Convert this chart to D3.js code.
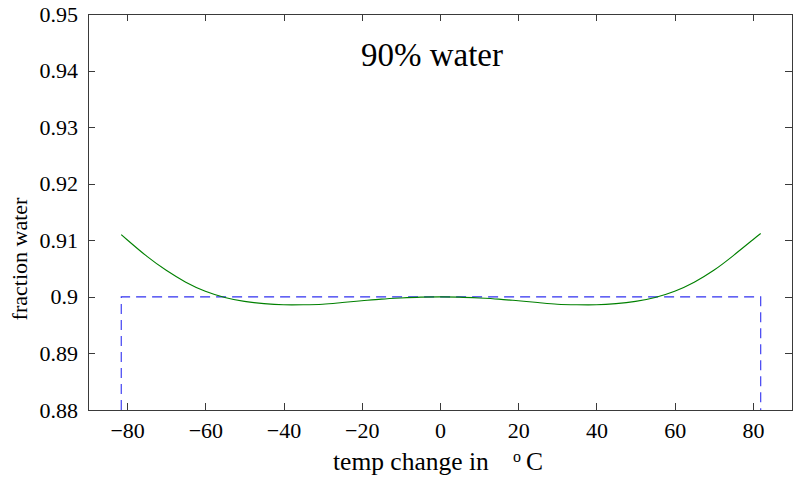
<!DOCTYPE html>
<html>
<head>
<meta charset="utf-8">
<script src="https://cdn.jsdelivr.net/npm/d3@7"></script>
<style>
  html, body { margin: 0; padding: 0; background: #fff; }
  svg { display: block; }
  svg text { font-family: "Liberation Serif", "DejaVu Serif", serif; }
</style>
</head>
<body>
<svg id="chart" width="800" height="483"></svg>
<script>
// ---- data ----
const temps = [-81.5, -80, -75, -70, -65, -60, -55, -50, -45, -40, -35, -30, -25, -20, -15, -10, -5, 0,
               5, 10, 15, 20, 25, 30, 35, 40, 45, 50, 55, 60, 65, 70, 75, 80, 82];
const fractionWater = [0.9110, 0.9101, 0.9072, 0.9047, 0.9026, 0.9010, 0.8999, 0.8992, 0.8988, 0.8986, 0.8986, 0.8987, 0.8990, 0.8993, 0.8996, 0.8998, 0.89995, 0.9000,
               0.89995, 0.8998, 0.8996, 0.8993, 0.8990, 0.8987, 0.8986, 0.8986, 0.8988, 0.8992, 0.8999, 0.9010, 0.9026, 0.9047, 0.9073, 0.9101, 0.9112];
const boundTemps = [-81.5, -81.5, 82, 82];
const boundValues = [0.88, 0.90, 0.90, 0.88];
const xTicks = [-80, -60, -40, -20, 0, 20, 40, 60, 80];
const yTicks = [0.88, 0.89, 0.90, 0.91, 0.92, 0.93, 0.94, 0.95];
const yTickLabels = ["0.88", "0.89", "0.9", "0.91", "0.92", "0.93", "0.94", "0.95"];
const titleText = "90% water";
const xLabelText = "temp change in";
const xLabelUnitSup = "o";
const xLabelUnit = "C";
const yLabelText = "fraction water";

// ---- layout ----
const svg = d3.select("#chart");
const L = 88, R = 792, T = 14, B = 410;
const x = d3.scaleLinear().domain([-90, 90]).range([L, R]);
const y = d3.scaleLinear().domain([0.88, 0.95]).range([B, T]);
const axisColor = "#3a3a3a";
const tickLen = 7;
const serif = "'Liberation Serif', 'DejaVu Serif', serif";

// box
svg.append("rect")
  .attr("x", L).attr("y", T).attr("width", R - L).attr("height", B - T)
  .attr("fill", "none").attr("stroke", axisColor).attr("stroke-width", 1)
  .attr("shape-rendering", "crispEdges");

function styleAxis(g) {
  g.attr("font-family", null).attr("font-size", null);
  g.select(".domain").remove();
  g.selectAll(".tick line").attr("stroke", axisColor).attr("shape-rendering", "crispEdges");
  g.selectAll(".tick text").attr("fill", "#000")
    .style("font-family", serif).style("font-size", "22px");
}

// bottom
svg.append("g").attr("transform", `translate(0,${B})`)
  .call(d3.axisBottom(x).tickValues(xTicks).tickSizeInner(-tickLen).tickSizeOuter(0).tickPadding(12))
  .call(styleAxis);
// top
svg.append("g").attr("transform", `translate(0,${T})`)
  .call(d3.axisTop(x).tickValues(xTicks).tickSizeInner(-tickLen).tickSizeOuter(0).tickFormat(""))
  .call(styleAxis);
// left
svg.append("g").attr("transform", `translate(${L},0)`)
  .call(d3.axisLeft(y).tickValues(yTicks).tickSizeInner(-tickLen).tickSizeOuter(0).tickPadding(10)
    .tickFormat((d, i) => yTickLabels[i]))
  .call(styleAxis);
// right
svg.append("g").attr("transform", `translate(${R},0)`)
  .call(d3.axisRight(y).tickValues(yTicks).tickSizeInner(-tickLen).tickSizeOuter(0).tickFormat(""))
  .call(styleAxis);

// dashed bounds
const boundPts = boundTemps.map((t, i) => [t, boundValues[i]]);
svg.append("path")
  .attr("d", d3.line().x(d => x(d[0])).y(d => y(d[1]))(boundPts))
  .attr("fill", "none").attr("stroke", "#3030f0").attr("stroke-width", 1.1)
  .attr("stroke-dasharray", "10,6");

// curve
const pts = temps.map((t, i) => [t, fractionWater[i]]);
svg.append("path")
  .attr("d", d3.line().x(d => x(d[0])).y(d => y(d[1])).curve(d3.curveNatural)(pts))
  .attr("fill", "none").attr("stroke", "#008000").attr("stroke-width", 1.1);

// title
svg.append("text").attr("x", 432).attr("y", 66).attr("text-anchor", "middle")
  .style("font-size", "33px").attr("fill", "#000").text(titleText);

// x label
const xl = svg.append("text").attr("y", 470).style("font-size", "25.5px").attr("fill", "#000");
xl.append("tspan").attr("x", 333).text(xLabelText);
xl.append("tspan").attr("x", 513).attr("dy", -8).style("font-size", "16px").text(xLabelUnitSup);
xl.append("tspan").attr("x", 526).attr("dy", 8).text(xLabelUnit);

// y label
svg.append("text").attr("transform", "translate(27,259) rotate(-90)")
  .attr("text-anchor", "middle").style("font-size", "22px").attr("fill", "#000").text(yLabelText);
</script>
</body>
</html>
